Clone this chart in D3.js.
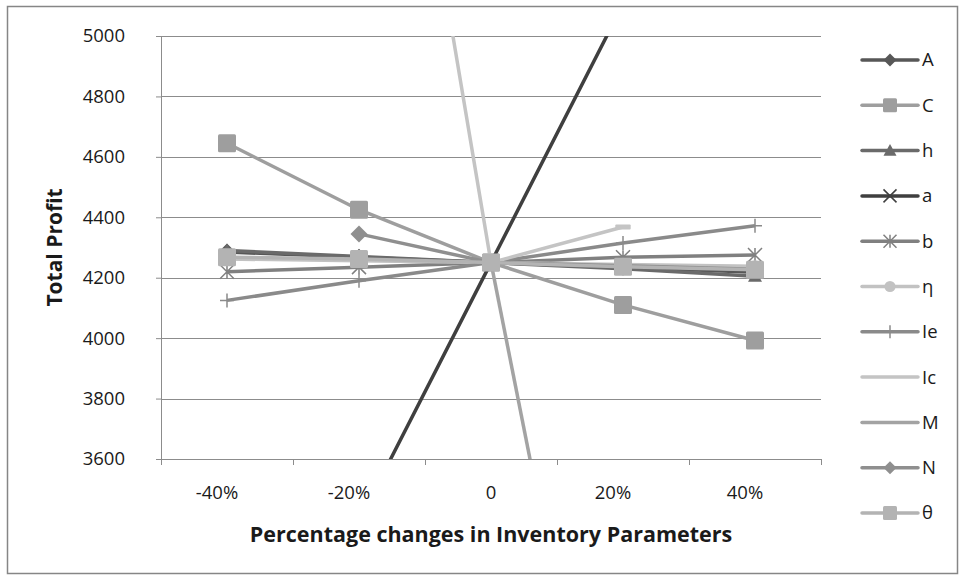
<!DOCTYPE html>
<html>
<head>
<meta charset="utf-8">
<script src="https://cdn.jsdelivr.net/npm/d3@7"></script>
<style>
  body { margin: 0; background: #fff; }
  text { font-family: "Open Sans", "DejaVu Sans", sans-serif; fill: #1a1a1a; }
</style>
</head>
<body>
<div id="chart"></div>
<script>
// categories and series
const categories = ["-40%", "-20%", "0", "20%", "40%"];
const yTicks = [3600, 3800, 4000, 4200, 4400, 4600, 4800, 5000];

const A     = [4285, 4268, 4250, 4235, 4218];
const C     = [4645, 4425, 4250, 4110, 3992];
const h     = [4290, 4270, 4250, 4230, 4205];
const a     = [2540, 3395, 4250, 5105, 5960];
const b     = [4220, 4235, 4250, 4268, 4275];
const eta   = [4262, 4256, 4250, 4244, 4238];
const Ie    = [4125, 4190, 4250, 4315, 4372];
const Ic    = [null, 6850, 4250, 4368, null];
const M     = [null, null, 4250, 2050, null];
const N     = [null, 4345, 4250, 4240, 4228];
const theta = [4268, 4262, 4250, 4236, 4226];

const series = [
  { name: "A", values: A, color: "#575757", marker: "diamond" },
  { name: "C", values: C, color: "#9e9e9e", marker: "square" },
  { name: "h", values: h, color: "#6a6a6a", marker: "triangle" },
  { name: "a", values: a, color: "#3f3f3f", marker: "x" },
  { name: "b", values: b, color: "#808080", marker: "star" },
  { name: "η", values: eta, color: "#c2c2c2", marker: "circle" },
  { name: "Ie", values: Ie, color: "#8a8a8a", marker: "plus" },
  { name: "Ic", values: Ic, color: "#c4c4c4", marker: "dash" },
  { name: "M", values: M, color: "#a3a3a3", marker: "none" },
  { name: "N", values: N, color: "#8f8f8f", marker: "diamond" },
  { name: "θ", values: theta, color: "#b3b3b3", marker: "square" }
];

const width = 964, height = 580;
const margin = { left: 161, right: 143, top: 36, bottom: 121 };
const plotW = width - margin.left - margin.right;
const plotH = height - margin.top - margin.bottom;

const svg = d3.select("#chart").append("svg")
  .attr("width", width)
  .attr("height", height);

// chart border
svg.append("rect")
  .attr("x", 7.5).attr("y", 6.5)
  .attr("width", 950).attr("height", 567)
  .attr("fill", "none")
  .attr("stroke", "#868686")
  .attr("stroke-width", 1.5);

const x = d3.scaleBand().domain(categories).range([0, plotW]).padding(0);
const y = d3.scaleLinear().domain([3600, 5000]).range([plotH, 0]);
const cx = (i) => x(categories[i]) + x.bandwidth() / 2;

const g = svg.append("g")
  .attr("transform", "translate(" + margin.left + "," + margin.top + ")");

g.append("defs").append("clipPath").attr("id", "plot-clip")
  .append("rect").attr("x", 0).attr("y", 0).attr("width", plotW).attr("height", plotH);

// gridlines
g.selectAll("line.grid")
  .data(yTicks)
  .enter().append("line")
  .attr("class", "grid")
  .attr("x1", 0).attr("x2", plotW)
  .attr("y1", (d) => Math.round(y(d)) + 0.5)
  .attr("y2", (d) => Math.round(y(d)) + 0.5)
  .attr("stroke", "#8c8c8c")
  .attr("stroke-width", 1);

// y axis
const yAxis = g.append("g")
  .call(d3.axisLeft(y).tickValues(yTicks).tickSize(5).tickPadding(31).tickFormat(d3.format("d")));
yAxis.select(".domain").attr("stroke", "#8c8c8c");
yAxis.selectAll(".tick line").attr("stroke", "#8c8c8c");
yAxis.selectAll("text").attr("font-size", 18.5).attr("fill", "#1a1a1a");

// x axis: labels centred, ticks on category boundaries
const xAxis = g.append("g")
  .attr("transform", "translate(0," + plotH + ")")
  .call(d3.axisBottom(x).tickSize(0).tickPadding(27));
xAxis.select(".domain").remove();
xAxis.selectAll("text")
  .attr("font-size", 18.5)
  .attr("fill", "#1a1a1a")
  .attr("dx", (d) => d.endsWith("%") ? -10 : 0);

g.append("line")
  .attr("x1", 0).attr("x2", plotW)
  .attr("y1", plotH + 0.5).attr("y2", plotH + 0.5)
  .attr("stroke", "#8c8c8c");

const bounds = categories.map((c) => x(c)).concat([plotW]);
g.selectAll("line.xtick")
  .data(bounds)
  .enter().append("line")
  .attr("class", "xtick")
  .attr("x1", (d) => Math.round(d) + 0.5).attr("x2", (d) => Math.round(d) + 0.5)
  .attr("y1", plotH).attr("y2", plotH + 6)
  .attr("stroke", "#8c8c8c");

// axis titles
svg.append("text")
  .attr("transform", "translate(62," + (margin.top + plotH / 2) + ") rotate(-90)")
  .attr("text-anchor", "middle")
  .attr("font-size", 21)
  .attr("font-weight", "bold")
  .text("Total Profit");

svg.append("text")
  .attr("x", margin.left + plotW / 2)
  .attr("y", 542)
  .attr("text-anchor", "middle")
  .attr("font-size", 21.5)
  .attr("font-weight", "bold")
  .text("Percentage changes in Inventory Parameters");

// marker drawing
function drawMarker(sel, type, color, size) {
  const s = size / 2;
  if (type === "diamond") {
    sel.append("path").attr("d", `M0,${-s}L${s},0L0,${s}L${-s},0Z`).attr("fill", color);
  } else if (type === "square") {
    sel.append("rect").attr("x", -s).attr("y", -s).attr("width", size).attr("height", size)
      .attr("rx", 1.5).attr("fill", color);
  } else if (type === "triangle") {
    sel.append("path").attr("d", `M0,${-s}L${s},${s * 0.8}L${-s},${s * 0.8}Z`).attr("fill", color);
  } else if (type === "circle") {
    sel.append("circle").attr("r", s * 0.85).attr("fill", color);
  } else if (type === "x") {
    sel.append("path").attr("d", `M${-s},${-s}L${s},${s}M${s},${-s}L${-s},${s}`)
      .attr("stroke", color).attr("stroke-width", 1.5);
  } else if (type === "star") {
    sel.append("path").attr("d", `M${-s},${-s}L${s},${s}M${s},${-s}L${-s},${s}M0,${-s}L0,${s}`)
      .attr("stroke", color).attr("stroke-width", 1.5);
  } else if (type === "plus") {
    sel.append("path").attr("d", `M${-s},0L${s},0M0,${-s}L0,${s}`)
      .attr("stroke", color).attr("stroke-width", 1.5);
  } else if (type === "dash") {
    sel.append("rect").attr("x", -s * 1.1).attr("y", -2.5).attr("width", s * 2.2).attr("height", 5)
      .attr("rx", 1).attr("fill", color);
  }
}

const line = d3.line()
  .defined((d) => d != null)
  .x((d, i) => cx(i))
  .y((d) => y(d));

const plot = g.append("g").attr("clip-path", "url(#plot-clip)");

series.forEach((s) => {
  const sg = plot.append("g");
  sg.append("path")
    .datum(s.values)
    .attr("fill", "none")
    .attr("stroke", s.color)
    .attr("stroke-width", 3.5)
    .attr("stroke-linejoin", "round")
    .attr("d", line);
  const size = s.marker === "square" ? 18 : (s.marker === "diamond" ? 17 : 14);
  s.values.forEach((v, i) => {
    if (v == null || v > 5000 || v < 3600) return;
    const m = sg.append("g").attr("transform", "translate(" + cx(i) + "," + y(v) + ")");
    drawMarker(m, s.marker, s.color, size);
  });
});

// legend
const legend = svg.append("g").attr("transform", "translate(862,60)");
series.forEach((s, i) => {
  const row = legend.append("g").attr("transform", "translate(0," + (i * 45.3) + ")");
  row.append("line")
    .attr("x1", 0).attr("x2", 56).attr("y1", 0).attr("y2", 0)
    .attr("stroke", s.color).attr("stroke-width", 3.5).attr("stroke-linecap", "round");
  const m = row.append("g").attr("transform", "translate(28,0)");
  if (s.marker !== "dash") drawMarker(m, s.marker, s.color, s.marker === "square" ? 14 : 13);
  row.append("text")
    .attr("x", 60).attr("y", 0).attr("dy", "0.35em")
    .attr("font-size", 18.5)
    .text(s.name);
});
</script>
</body>
</html>
